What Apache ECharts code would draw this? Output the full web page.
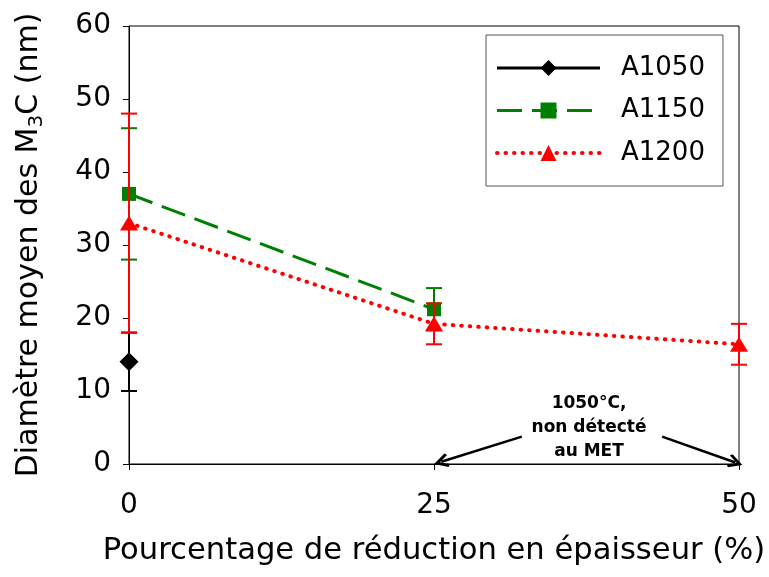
<!DOCTYPE html>
<html>
<head>
<meta charset="utf-8">
<script src="https://cdn.jsdelivr.net/npm/echarts@6/dist/echarts.min.js"></script>
<style>
html,body{margin:0;padding:0;background:#fff;}
#chart{width:769px;height:577px;}
</style>
</head>
<body>
<div id="chart"></div>
<script>
// ---- data ----
const xValues = [0, 25, 50];
const xTicks = [0, 25, 50];
const yTicks = [0, 10, 20, 30, 40, 50, 60];
const seriesNames = ['A1050', 'A1150', 'A1200'];
const a1050 = [14, null, null];
const a1150 = [37, 21.2, null];
const a1200 = [33, 19.2, 16.4];
const a1050Err = [4, null, null];
const a1150Err = [9, 2.9, null];
const a1200Err = [15, 2.8, 2.8];
const noteText = '1050°C,\nnon détecté\nau MET';
const arrowStarts = [[32.2, 3.75], [43.7, 3.75]];
const arrowEnds = [[25.6, 0.3], [49.7, 0.2]];

function pts(vals) {
  const out = [];
  vals.forEach((v, i) => { if (v !== null) out.push([xValues[i], v]); });
  return out;
}
function errPts(vals, errs) {
  const out = [];
  vals.forEach((v, i) => { if (v !== null && errs[i] !== null) out.push([xValues[i], v - errs[i], v + errs[i]]); });
  return out;
}
function errRender(color) {
  return function (params, api) {
    const x = api.value(0), lo = api.value(1), hi = api.value(2);
    const p1 = api.coord([x, lo]), p2 = api.coord([x, hi]);
    const w = 8;
    const st = { stroke: color, lineWidth: 2 };
    return {
      type: 'group',
      children: [
        { type: 'line', shape: { x1: p1[0], y1: p1[1], x2: p2[0], y2: p2[1] }, style: st },
        { type: 'line', shape: { x1: p1[0] - w, y1: p1[1], x2: p1[0] + w, y2: p1[1] }, style: st },
        { type: 'line', shape: { x1: p2[0] - w, y1: p2[1], x2: p2[0] + w, y2: p2[1] }, style: st }
      ]
    };
  };
}

const FONT = 'DejaVu Sans';
const chevron = 'path://M5,0 L10,8.6 L8.4,10 L5,4 L1.6,10 L0,8.6 Z';

const chart = echarts.init(document.getElementById('chart'));
chart.setOption({
  animation: false,
  backgroundColor: '#fff',
  grid: { left: 129, right: 30, top: 26, bottom: 113, show: true, borderColor: '#000', borderWidth: 1, backgroundColor: 'transparent' },
  xAxis: {
    type: 'value', min: xTicks[0], max: xTicks[xTicks.length - 1], interval: 25,
    name: 'Pourcentage de réduction en épaisseur (%)',
    nameLocation: 'middle', nameGap: 72,
    nameTextStyle: { fontFamily: FONT, fontSize: 30.6, color: '#000' },
    axisLine: { lineStyle: { color: '#000', width: 1 } },
    axisTick: { show: true, inside: false, length: 6, lineStyle: { color: '#000' } },
    axisLabel: { fontFamily: FONT, fontSize: 28, color: '#000', margin: 28 },
    splitLine: { show: false }
  },
  yAxis: {
    type: 'value', min: yTicks[0], max: yTicks[yTicks.length - 1], interval: 10,
    name: '{a|Diamètre moyen des M}{s|3}{a|C (nm)}',
    nameLocation: 'middle', nameGap: 82,
    nameTextStyle: {
      fontFamily: FONT, fontSize: 30, color: '#000',
      rich: {
        a: { fontFamily: FONT, fontSize: 30, color: '#000', lineHeight: 36 },
        s: { fontFamily: FONT, fontSize: 20, color: '#000', lineHeight: 36, verticalAlign: 'bottom', padding: [14, 0, 0, 0] }
      }
    },
    axisLine: { lineStyle: { color: '#000', width: 1 } },
    axisTick: { show: true, inside: false, length: 6, lineStyle: { color: '#000' } },
    axisLabel: { fontFamily: FONT, fontSize: 28, color: '#000', margin: 18 },
    splitLine: { show: false }
  },
  legend: {
    orient: 'vertical', left: 486, top: 35,
    data: [
      { name: seriesNames[0], lineStyle: { width: 3 } },
      { name: seriesNames[1], lineStyle: { width: 3 } },
      { name: seriesNames[2], lineStyle: { width: 4 } }
    ],
    borderColor: '#555', borderWidth: 1, backgroundColor: '#fff',
    padding: [20, 18, 20, 9],
    itemWidth: 103, itemHeight: 20, itemGap: 16.5,
    textStyle: { fontFamily: FONT, fontSize: 26, color: '#000', padding: [0, 0, 0, 16] }
  },
  graphic: [{
    type: 'text', x: 589, y: 392, z: 100,
    style: { text: noteText, fontFamily: FONT, fontSize: 17, fontWeight: 'bold', fill: '#000', lineHeight: 24, align: 'center', verticalAlign: 'top' }
  }],
  series: [
    { name: 'A1050 err', type: 'custom', z: 2, clip: false, renderItem: errRender('#000'), data: errPts(a1050, a1050Err), encode: { x: 0, y: [1, 2] } },
    { name: seriesNames[0], type: 'line', z: 3, clip: false, data: pts(a1050),
      symbol: 'diamond', symbolSize: [19, 19], showSymbol: true,
      itemStyle: { color: '#000' }, lineStyle: { color: '#000', width: 3 } },
    { name: 'A1150 err', type: 'custom', z: 4, clip: false, renderItem: errRender('#008000'), data: errPts(a1150, a1150Err), encode: { x: 0, y: [1, 2] } },
    { name: seriesNames[1], type: 'line', z: 5, clip: false, data: pts(a1150),
      symbol: 'rect', symbolSize: 14, showSymbol: true,
      itemStyle: { color: '#008000' }, lineStyle: { color: '#008000', width: 3, type: [25, 10] } },
    { name: 'A1200 err', type: 'custom', z: 6, clip: false, renderItem: errRender('#ff0000'), data: errPts(a1200, a1200Err), encode: { x: 0, y: [1, 2] } },
    { name: seriesNames[2], type: 'line', z: 7, clip: false, data: pts(a1200),
      symbol: 'triangle', symbolSize: [18, 15], showSymbol: true,
      itemStyle: { color: '#ff0000' }, lineStyle: { color: '#ff0000', width: 4, type: [0.5, 8], cap: 'round' },
      markLine: {
        silent: true, symbol: ['none', chevron], symbolSize: [14, 15],
        label: { show: false },
        lineStyle: { color: '#000', width: 2.5, type: 'solid' },
        emphasis: { disabled: true },
        data: arrowStarts.map((s, i) => [{ coord: s }, { coord: arrowEnds[i] }])
      } }
  ]
});
</script>
</body>
</html>
